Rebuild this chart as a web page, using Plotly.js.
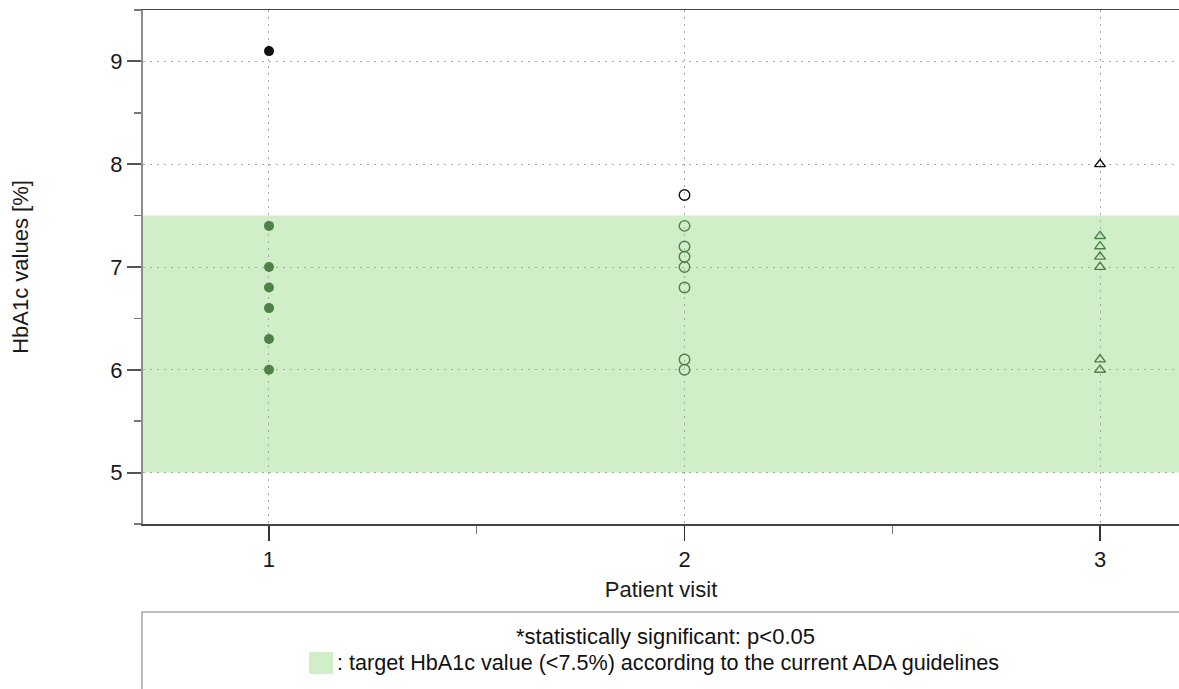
<!DOCTYPE html>
<html>
<head>
<meta charset="utf-8">
<script src="https://cdn.plot.ly/plotly-3.0.1.min.js"></script>
<style>
  html, body { margin: 0; padding: 0; background: #fff; overflow: hidden; }
  #chart { width: 1179px; height: 689px; }
</style>
</head>
<body>
<div id="chart"></div>
<script>
// HbA1c readings per patient visit
const visits = [1, 2, 3];
const visit1Values = [9.1, 7.4, 7.0, 6.8, 6.6, 6.3, 6.0];
const visit2Values = [7.7, 7.4, 7.2, 7.1, 7.0, 6.8, 6.1, 6.0];
const visit3Values = [8.0, 7.3, 7.2, 7.1, 7.0, 6.1, 6.0];
const visitSymbols = ['circle', 'circle-open', 'triangle-up-open'];

// ADA target band for HbA1c (%)
const targetLow = 5.0;
const targetHigh = 7.5;

const yTicks = [5, 6, 7, 8, 9];
const xTickLabels = ['1', '2', '3'];

const inTargetColor = '#4f8048';
const outTargetColor = '#111111';

const FONT = 'Liberation Sans, Arial, sans-serif';
const FS = 22;

function pointColors(vals) {
  return vals.map(v => (v > targetHigh ? outTargetColor : inTargetColor));
}

const allValues = [visit1Values, visit2Values, visit3Values];

const traces = allValues.map((vals, i) => {
  const open = visitSymbols[i] !== 'circle';
  const cols = pointColors(vals);
  return {
    type: 'scatter',
    mode: 'markers',
    x: vals.map(() => visits[i]),
    y: vals,
    showlegend: false,
    hoverinfo: 'x+y',
    marker: {
      symbol: visitSymbols[i],
      size: visitSymbols[i] === 'triangle-up-open' ? 9.5 : (open ? 10.5 : 10),
      color: cols,
      line: open ? { color: cols, width: 1.4 } : { width: 0 }
    }
  };
});

const gridDash = '1.5px,5.5px';

const layout = {
  width: 1179,
  height: 689,
  margin: { l: 143, r: 0, t: 10, b: 165, pad: 0 },
  paper_bgcolor: '#ffffff',
  plot_bgcolor: '#ffffff',
  font: { family: FONT, size: FS, color: '#1a1a1a' },
  xaxis: {
    range: [0.6968, 3.19],
    tickmode: 'array',
    tickvals: visits,
    ticktext: xTickLabels,
    ticks: 'outside',
    ticklen: 15,
    tickwidth: 1.5,
    tickcolor: '#333333',
    minor: { dtick: 0.5, tick0: 0, ticks: 'outside', ticklen: 8, tickwidth: 1, tickcolor: '#777777', showgrid: false },
    showline: true,
    linecolor: '#444444',
    linewidth: 1.5,
    mirror: true,
    showgrid: true,
    gridcolor: '#a8a8a8',
    gridwidth: 1,
    griddash: gridDash,
    zeroline: false,
    tickfont: { family: FONT, size: FS, color: '#1a1a1a' },
    title: { text: 'Patient visit', font: { family: FONT, size: FS, color: '#1a1a1a' }, standoff: 10 }
  },
  yaxis: {
    range: [4.5, 9.5],
    tickmode: 'array',
    tickvals: yTicks,
    ticktext: yTicks.map(String),
    ticks: 'outside',
    ticklen: 14,
    tickwidth: 2,
    tickcolor: '#555555',
    minor: { dtick: 0.5, tick0: 0, ticks: 'outside', ticklen: 7, tickwidth: 1.5, tickcolor: '#777777', showgrid: false },
    showline: true,
    linecolor: '#8e8e8e',
    linewidth: 2,
    showgrid: true,
    gridcolor: '#a8a8a8',
    gridwidth: 1,
    griddash: gridDash,
    zeroline: false,
    tickfont: { family: FONT, size: FS, color: '#1a1a1a' },
    title: { text: 'HbA1c values [%]', font: { family: FONT, size: FS, color: '#1a1a1a' }, standoff: 76 }
  },
  shapes: [
    {
      type: 'rect', layer: 'below',
      xref: 'paper', x0: 0, x1: 1,
      yref: 'y', y0: targetLow, y1: targetHigh,
      fillcolor: '#d0efc8', line: { width: 0 }
    },
    {
      type: 'rect', layer: 'above',
      xref: 'paper', x0: -0.001, x1: 1.02,
      yref: 'paper', y0: -0.36, y1: -0.171,
      fillcolor: 'rgba(0,0,0,0)', line: { color: '#a8a8a8', width: 1.5 }
    },
    {
      type: 'rect', layer: 'above',
      xref: 'paper', x0: 0.1602, x1: 0.1834,
      yref: 'paper', y0: -0.2918, y1: -0.249,
      fillcolor: '#d0efc8', line: { width: 0 }
    }
  ],
  annotations: [
    {
      xref: 'paper', yref: 'paper', x: 0.504, y: -0.2198,
      text: '*statistically significant: p<0.05',
      showarrow: false, xanchor: 'center', yanchor: 'middle',
      font: { family: FONT, size: FS, color: '#111111' }
    },
    {
      xref: 'paper', yref: 'paper', x: 0.1857, y: -0.2704,
      text: ': target HbA1c value (<7.5%) according to the current ADA guidelines',
      showarrow: false, xanchor: 'left', yanchor: 'middle',
      font: { family: FONT, size: 21.6, color: '#111111' }
    }
  ]
};

Plotly.newPlot('chart', traces, layout, { displayModeBar: false, staticPlot: true });
</script>
</body>
</html>
